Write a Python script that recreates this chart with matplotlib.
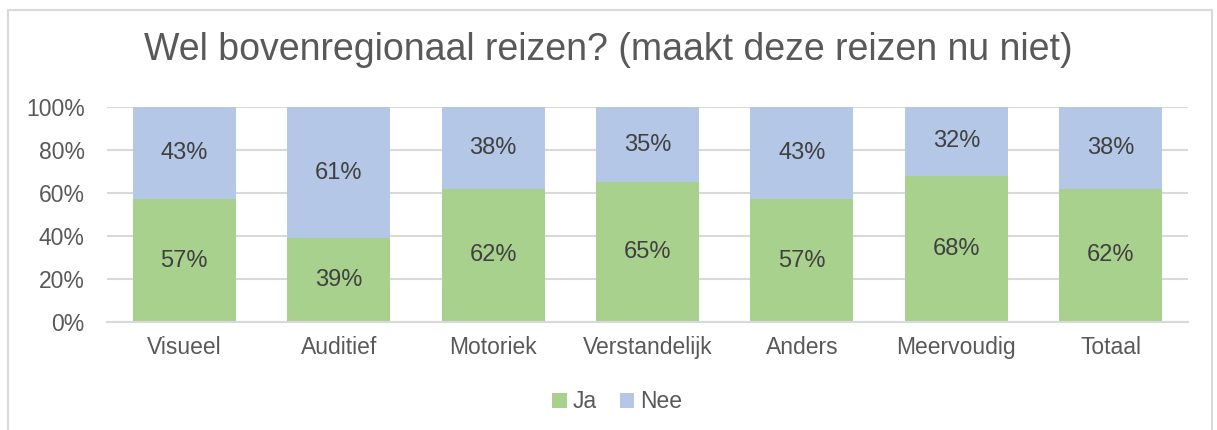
import matplotlib.pyplot as plt
from matplotlib.patches import Rectangle

categories = ['Visueel', 'Auditief', 'Motoriek', 'Verstandelijk', 'Anders', 'Meervoudig', 'Totaal']
ja = [57, 39, 62, 65, 57, 68, 62]
nee = [43, 61, 38, 35, 43, 32, 38]
yticks = [0, 20, 40, 60, 80, 100]

green = '#A9D18E'
blue = '#B4C7E7'
txt = '#595959'
lbl = '#404040'
grid = '#D9D9D9'

plt.rcParams['font.family'] = ['Liberation Sans', 'DejaVu Sans']

fig = plt.figure(figsize=(12.17, 4.30), dpi=100)
ax = fig.add_axes([107 / 1217, 108 / 430, 1081 / 1217, 215 / 430])

x = list(range(len(categories)))
ax.bar(x, ja, width=0.667, color=green, label='Ja', zorder=2)
ax.bar(x, nee, width=0.667, bottom=ja, color=blue, label='Nee', zorder=2)

for i in x:
    ax.text(i, ja[i] / 2, f'{ja[i]}%', ha='center', va='center', fontsize=17, color=lbl, zorder=3)
    ax.text(i, ja[i] + nee[i] / 2, f'{nee[i]}%', ha='center', va='center', fontsize=17, color=lbl, zorder=3)

ax.set_xlim(-0.5, len(categories) - 0.5)
ax.set_ylim(0, 100)
ax.set_yticks(yticks)
ax.set_yticklabels([f'{t}%' for t in yticks])
ax.set_xticks(x)
ax.set_xticklabels(categories)
ax.tick_params(axis='both', length=0, labelsize=16.5, labelcolor=txt)
ax.tick_params(axis='y', pad=16)
ax.tick_params(axis='x', pad=10)
ax.yaxis.grid(True, color=grid, linewidth=1.5, zorder=0)
for s in ['top', 'right', 'left']:
    ax.spines[s].set_visible(False)
ax.spines['bottom'].set_color(grid)
ax.spines['bottom'].set_linewidth(1.5)

fig.text(0.5, 1 - 50 / 430, 'Wel bovenregionaal reizen? (maakt deze reizen nu niet)',
         ha='center', va='center', fontsize=27, color=txt)

fig.legend(loc='center', bbox_to_anchor=(617 / 1217, 1 - 402 / 430), ncol=2, frameon=False,
           fontsize=16.5, labelcolor=txt, handlelength=0.65, handleheight=0.65,
           handletextpad=0.25, columnspacing=1.0)

fig.add_artist(Rectangle((8 / 1217, -0.1), 1204 / 1217, 1.1 - 10 / 430, transform=fig.transFigure,
                         fill=False, edgecolor=grid, linewidth=1.5, clip_on=False))

plt.savefig('out.png', dpi=100)
